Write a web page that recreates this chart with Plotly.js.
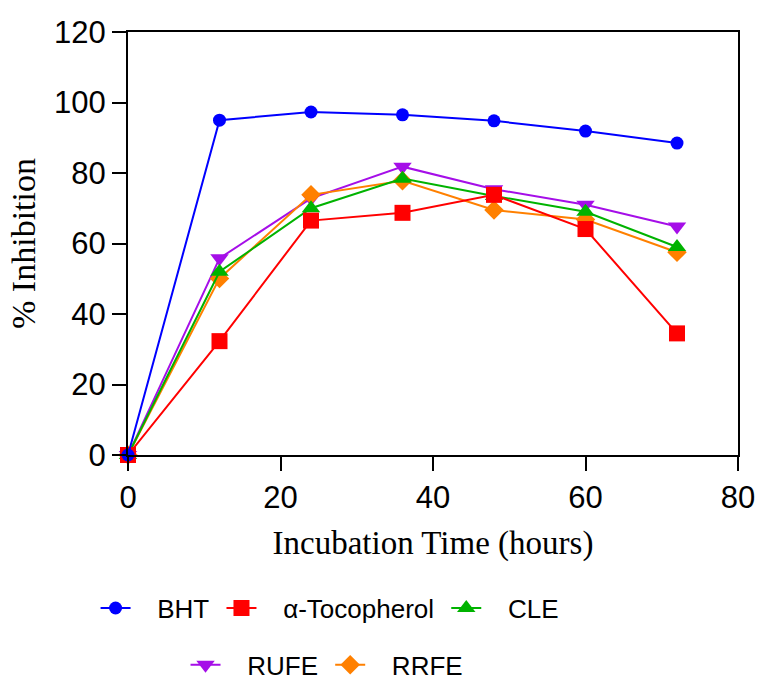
<!DOCTYPE html>
<html>
<head>
<meta charset="utf-8">
<script src="https://cdn.plot.ly/plotly-3.0.1.min.js"></script>
<style>html,body{margin:0;padding:0;background:#fff;}#chart{width:757px;height:680px;}</style>
</head>
<body>
<div id="chart"></div>
<script>
var hours = [0, 12, 24, 36, 48, 60, 72];
var bht = [0, 95.0, 97.3, 96.5, 94.8, 91.9, 88.5];
var tocopherol = [0, 32.3, 66.5, 68.7, 73.8, 64.1, 34.5];
var cle = [0, 52.0, 70.0, 78.4, 73.5, 69.0, 59.0];
var rufe = [0, 55.8, 72.8, 81.8, 75.4, 71.0, 64.8];
var rrfe = [0, 50.1, 73.8, 77.8, 69.5, 66.8, 57.5];
var seriesNames = ['BHT', '\u03B1-Tocopherol', 'CLE', 'RUFE', 'RRFE'];
var xTicks = [0, 20, 40, 60, 80];
var yTicks = [0, 20, 40, 60, 80, 100, 120];

var NB = '\u00A0';
function tr(y, name, color, symbol, size, legend, rank) {
  return {
    x: hours, y: y, name: NB + NB + NB + name + NB, type: 'scatter', mode: 'lines+markers',
    line: {color: color, width: 2},
    marker: {color: color, symbol: symbol, size: size},
    cliponaxis: false, legend: legend, legendrank: rank
  };
}
var data = [
  tr(bht, seriesNames[0], '#0000ff', 'circle', 13, 'legend', 1),
  tr(tocopherol, seriesNames[1], '#ff0000', 'square', 16, 'legend', 2),
  tr(cle, seriesNames[2], '#00b300', 'triangle-up', 16, 'legend', 3),
  tr(rufe, seriesNames[3], '#a50ee8', 'triangle-down', 16, 'legend2', 1),
  tr(rrfe, seriesNames[4], '#ff8000', 'diamond', 15, 'legend2', 2)
];
// draw order: later traces on top; reference shows red and green on top
data = [data[3], data[4], data[2], data[1], data[0]];

var legFont = {family: 'Liberation Sans, Arial, sans-serif', size: 26, color: '#000'};
var layout = {
  width: 757, height: 680,
  margin: {l: 128, r: 19, t: 32, b: 225, autoexpand: false},
  paper_bgcolor: '#fff', plot_bgcolor: '#fff',
  showlegend: true,
  xaxis: {
    range: [0, 80], tickvals: xTicks, ticktext: xTicks.map(String),
    showgrid: false, zeroline: false, showline: true, mirror: true, automargin: false,
    linecolor: '#000', linewidth: 2, ticks: 'outside', ticklen: 14, tickwidth: 2, tickcolor: '#000',
    tickfont: {family: 'Liberation Sans, Arial, sans-serif', size: 31, color: '#000'},
    title: {text: 'Incubation Time (hours)', font: {family: 'Liberation Serif, Times New Roman, serif', size: 33, color: '#000'}, standoff: 17}
  },
  yaxis: {
    range: [0, 120], tickvals: yTicks, ticktext: yTicks.map(String),
    showgrid: false, zeroline: false, showline: true, mirror: true, automargin: false,
    linecolor: '#000', linewidth: 2, ticks: 'outside', ticklen: 14, tickwidth: 2, tickcolor: '#000',
    tickfont: {family: 'Liberation Sans, Arial, sans-serif', size: 31, color: '#000'},
    title: {text: '% Inhibition', font: {family: 'Liberation Serif, Times New Roman, serif', size: 34, color: '#000'}, standoff: 8}
  },
  legend: {
    orientation: 'h', x: 0.337, xanchor: 'center', y: -0.362, yanchor: 'middle',
    font: legFont, traceorder: 'normal', itemwidth: 30, bgcolor: 'rgba(0,0,0,0)'
  },
  legend2: {
    orientation: 'h', x: 0.332, xanchor: 'center', y: -0.496, yanchor: 'middle',
    font: legFont, traceorder: 'normal', itemwidth: 30, bgcolor: 'rgba(0,0,0,0)'
  }
};
Plotly.newPlot('chart', data, layout, {displayModeBar: false, staticPlot: true});
</script>
</body>
</html>
